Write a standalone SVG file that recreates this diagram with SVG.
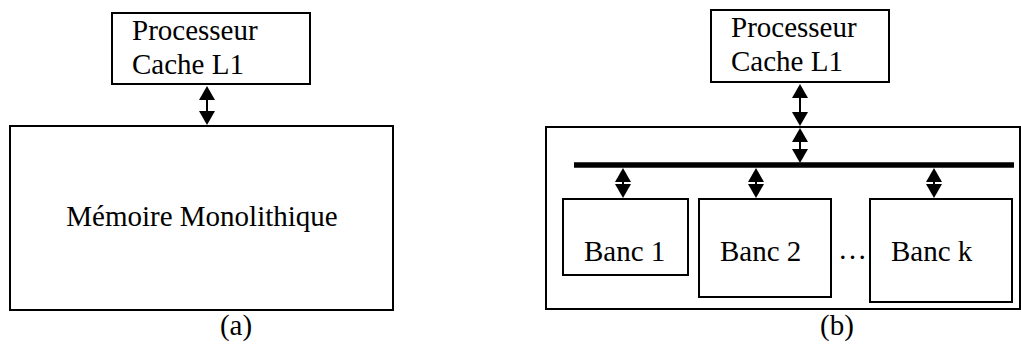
<svg xmlns="http://www.w3.org/2000/svg" width="1021" height="344" viewBox="0 0 1021 344">
<style>
.box{fill:#fff;stroke:#000;stroke-width:2}
.t{font-family:"Liberation Serif","Times New Roman",serif;font-size:29px;fill:#000}
.s{stroke:#000;stroke-width:2;fill:none}
.bus{stroke:#000;stroke-width:5.5}
</style>
<defs>
<path id="up" d="M-8,14 L8,14 L0,0 Z" fill="#000"/>
<path id="dn" d="M-8,-14 L8,-14 L0,0 Z" fill="#000"/>
</defs>
<rect width="1021" height="344" fill="#fff"/>
<g id="proc-a">
<rect class="box" x="112" y="13" width="198" height="71"/>
<text class="t" x="132" y="40">Processeur</text>
<text class="t" x="132" y="74">Cache L1</text>
</g>
<g id="memoire">
<rect class="box" x="10" y="126" width="383" height="184"/>
<text class="t" x="202" y="226" text-anchor="middle">Mémoire Monolithique</text>
</g>
<text id="label-a" class="t" x="236" y="335" text-anchor="middle">(a)</text>
<g id="memoire-b">
<rect class="box" x="546" y="127" width="474" height="182"/>
</g>
<g id="proc-b">
<rect class="box" x="711" y="10" width="178" height="72"/>
<text class="t" x="731" y="37">Processeur</text>
<text class="t" x="731" y="71">Cache L1</text>
</g>
<g id="banc1">
<rect class="box" x="563" y="199" width="125" height="76"/>
<text class="t" x="584" y="261">Banc 1</text>
</g>
<g id="banc2">
<rect class="box" x="699" y="199" width="132" height="98"/>
<text class="t" x="720" y="261">Banc 2</text>
</g>
<g id="banck">
<rect class="box" x="870" y="199" width="142" height="103"/>
<text class="t" x="891" y="261">Banc k</text>
</g>
<text id="dots" class="t" x="838" y="259">…</text>
<text id="label-b" class="t" x="837" y="335" text-anchor="middle">(b)</text>
<g id="connectors">
<line class="bus" x1="574" y1="165" x2="1014" y2="165"/>
<line class="s" x1="207" y1="98" x2="207" y2="113"/>
<use href="#up" x="207" y="86"/><use href="#dn" x="207" y="125"/>
<line class="s" x1="800" y1="96" x2="800" y2="114"/>
<use href="#up" x="800" y="84"/><use href="#dn" x="800" y="126"/>
<line class="s" x1="800" y1="140" x2="800" y2="151"/>
<use href="#up" x="800" y="128"/><use href="#dn" x="800" y="163"/>
<line class="s" x1="623" y1="181" x2="623" y2="185"/>
<use href="#up" x="623" y="168"/><use href="#dn" x="623" y="198"/>
<line class="s" x1="756" y1="181" x2="756" y2="185"/>
<use href="#up" x="756" y="168"/><use href="#dn" x="756" y="198"/>
<line class="s" x1="934" y1="181" x2="934" y2="185"/>
<use href="#up" x="934" y="168"/><use href="#dn" x="934" y="198"/>
</g>
</svg>
